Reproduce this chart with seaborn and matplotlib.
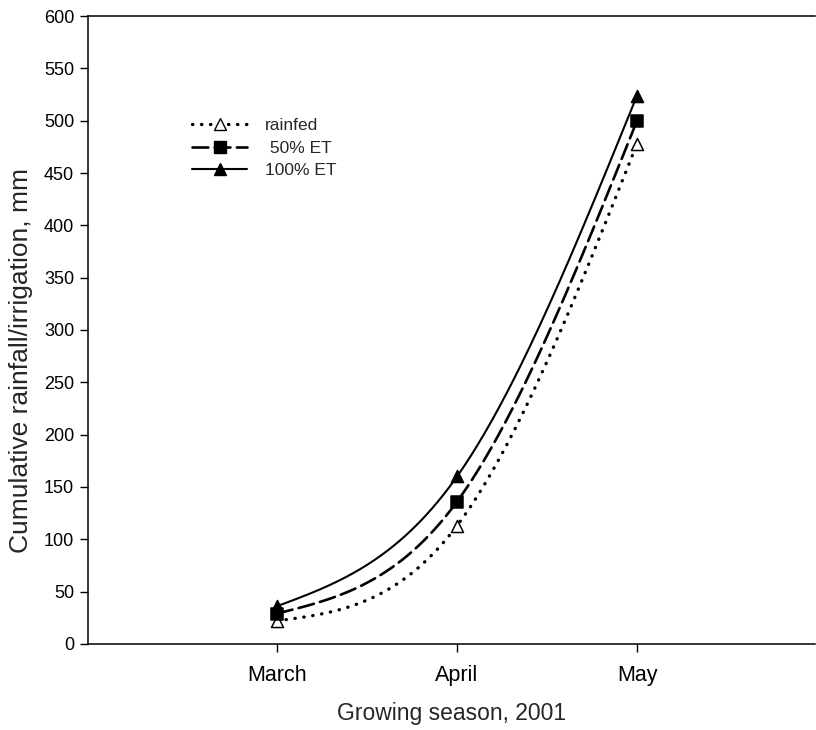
import numpy as np
import pandas as pd
import matplotlib.pyplot as plt
from matplotlib.lines import Line2D
import seaborn as sns

months = ['March', 'April', 'May']
rainfed = [22, 113, 478]
et_50 = [29, 136, 500]
et_100 = [36, 160, 524]


def natural_spline(y, n=200):
    """Natural cubic spline through points at x = 0, 1, 2, ... (unit spacing)."""
    y = np.asarray(y, dtype=float)
    k = len(y)
    A = np.zeros((k, k))
    r = np.zeros(k)
    A[0, 0] = A[-1, -1] = 1
    for i in range(1, k - 1):
        A[i, i - 1:i + 2] = [1, 4, 1]
        r[i] = 6 * (y[i - 1] - 2 * y[i] + y[i + 1])
    M = np.linalg.solve(A, r)
    xs = np.linspace(0, k - 1, n)
    i = np.minimum(xs.astype(int), k - 2)
    t = xs - i
    ys = ((1 - t) * y[i] + t * y[i + 1]
          - t * (1 - t) / 6 * ((2 - t) * M[i] + (1 + t) * M[i + 1]))
    return xs, ys


sns.set_theme(style='ticks')
plt.rcParams['font.family'] = ['Liberation Sans', 'DejaVu Sans']

df = pd.DataFrame({'pos': np.arange(len(months)),
                   'rainfed': rainfed, '50% ET': et_50, '100% ET': et_100})

fig = plt.figure(figsize=(8.16, 7.3), dpi=100)
ax = fig.add_axes([0.108, 0.118, 0.891, 0.86])

# series: (column, line style, marker, face colour, line width)
styles = [
    ('rainfed', (0, (0.1, 2.6)), '^', 'white', 2.4),
    ('50% ET', (0, (6, 2.4)), 's', 'black', 1.9),
    ('100% ET', '-', '^', 'black', 1.5),
]

handles = []
for col, ls, mk, fc, lw in styles:
    xs, ys = natural_spline(df[col])
    sns.lineplot(x=xs, y=ys, ax=ax, color='black', linewidth=lw,
                 linestyle=ls, dash_capstyle='round', solid_capstyle='butt')
    sns.scatterplot(data=df, x='pos', y=col, marker=mk, s=75, color=fc,
                    edgecolor='black', linewidth=1.1, ax=ax, zorder=5)
    handles.append(Line2D([], [], color='black', linestyle=ls, linewidth=lw,
                          dash_capstyle='round', marker=mk, markersize=8,
                          markerfacecolor=fc, markeredgecolor='black'))

ax.legend(handles, ['rainfed', ' 50% ET', '100% ET'], frameon=False,
          loc='upper left', bbox_to_anchor=(0.121, 0.862), fontsize=12.5,
          handlelength=3.2, handletextpad=1.0, labelspacing=0.42)

ax.set_xlim(-1.05, 2.99)
ax.set_ylim(0, 600)
ax.set_xticks(np.arange(len(months)))
ax.set_xticklabels(months)
ax.set_yticks(np.arange(0, 601, 50))
ax.tick_params(direction='out', length=6, width=1, colors='black')
ax.tick_params(axis='x', labelsize=15.5, pad=9)
ax.tick_params(axis='y', labelsize=13, pad=4)
ax.set_xlabel('Growing season, 2001', fontsize=16.5, labelpad=12)
ax.set_ylabel('Cumulative rainfall/irrigation, mm', fontsize=19)
ax.yaxis.set_label_coords(-0.076, 0.452)

for side in ['left', 'bottom', 'top']:
    ax.spines[side].set_color('black')
    ax.spines[side].set_linewidth(1.1)
ax.spines['right'].set_visible(False)

fig.savefig('out.png', dpi=100, facecolor='white')
